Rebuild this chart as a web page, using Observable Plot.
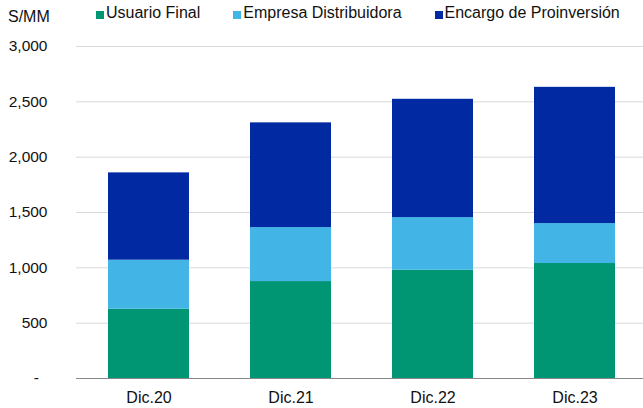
<!DOCTYPE html>
<html>
<head>
<meta charset="utf-8">
<script src="https://cdn.jsdelivr.net/npm/d3@7"></script>
<script src="https://cdn.jsdelivr.net/npm/@observablehq/plot@0.6"></script>
<style>
  html, body { margin: 0; padding: 0; background: #fff; }
  body { width: 643px; height: 408px; overflow: hidden; font-family: "Liberation Sans", Arial, sans-serif; color: #111; }
  #header { position: relative; height: 30px; }
  #unit { position: absolute; left: 8px; top: 8px; font-size: 16px; line-height: 18px; }
  #legend { position: absolute; left: 96px; top: 4px; display: flex; gap: 33px; font-size: 16px; line-height: 18px; }
  .item { display: flex; align-items: center; }
  .sw { width: 8px; height: 8px; margin-right: 2px; margin-top: 4px; }
  svg { display: block; }
</style>
</head>
<body>
<div id="header"><div id="unit">S/MM</div><div id="legend"></div></div>
<div id="chart"></div>
<script>
const categories = ["Dic.20", "Dic.21", "Dic.22", "Dic.23"];
const seriesNames = ["Usuario Final", "Empresa Distribuidora", "Encargo de Proinversión"];
const usuarioFinal = [626, 876, 978, 1039];
const empresaDistribuidora = [443, 488, 476, 361];
const encargoProinversion = [789, 946, 1069, 1231];
const yTicks = [0, 500, 1000, 1500, 2000, 2500, 3000];
const colors = ["#009673", "#42B5E6", "#0029A2"];

const seriesValues = [usuarioFinal, empresaDistribuidora, encargoProinversion];
const data = [];
seriesNames.forEach((s, i) => {
  categories.forEach((c, j) => data.push({category: c, series: s, value: seriesValues[i][j]}));
});

const legend = document.getElementById("legend");
seriesNames.forEach((s, i) => {
  const it = document.createElement("div");
  it.className = "item";
  const sw = document.createElement("span");
  sw.className = "sw";
  sw.style.background = colors[i];
  const t = document.createElement("span");
  t.textContent = s;
  it.appendChild(sw); it.appendChild(t);
  legend.appendChild(it);
});

const fmt = d3.format(",");
const chart = Plot.plot({
  width: 643,
  height: 378,
  marginLeft: 76,
  marginRight: 0,
  marginTop: 16,
  marginBottom: 30,
  style: {fontFamily: "'Liberation Sans', Arial, sans-serif", fontSize: "15.5px", color: "#111"},
  x: {domain: categories, range: [76, 647], paddingInner: 0.43, paddingOuter: 0.215, label: null},
  y: {domain: [0, 3000], label: null},
  color: {domain: seriesNames, range: colors},
  marks: [
    Plot.gridY(yTicks, {stroke: "#d9d9d9", strokeOpacity: 1}),
    Plot.barY(data, {x: "category", y: "value", fill: "series", order: seriesNames}),
    Plot.ruleY([0], {stroke: "#888", strokeWidth: 1.2}),
    Plot.axisY(yTicks, {tickSize: 0, tickPadding: 29, tickFormat: d => d === 0 ? "-\u00a0\u00a0" : fmt(d), label: null}),
    Plot.axisX({tickSize: 0, tickPadding: 13, fontSize: 16, label: null})
  ]
});
document.getElementById("chart").appendChild(chart);
</script>
</body>
</html>
